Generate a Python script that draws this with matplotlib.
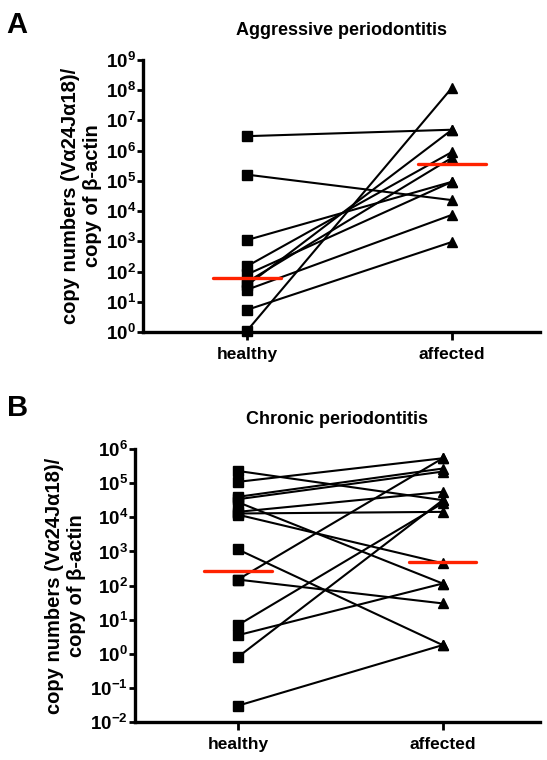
import math

import matplotlib

matplotlib.use("Agg")
import matplotlib.pyplot as plt
from matplotlib.ticker import FixedLocator, FuncFormatter, NullLocator

plt.rcParams["font.family"] = ["Liberation Sans", "DejaVu Sans"]
plt.rcParams["font.weight"] = "bold"
plt.rcParams["mathtext.fontset"] = "custom"
plt.rcParams["mathtext.rm"] = "Liberation Sans:bold"
plt.rcParams["mathtext.bf"] = "Liberation Sans:bold"
plt.rcParams["mathtext.it"] = "Liberation Sans:bold"

GROUPS = ["healthy", "affected"]

# panel A: aggressive periodontitis, one pair per patient
A_HEALTHY = [3.0e6, 1.6e5, 1.1e3, 150, 80, 45, 35, 25, 5.4, 1.1]
A_AFFECTED = [4.9e6, 2.3e4, 9.3e4, 9.0e5, 9.3e4, 5.8e5, 4.9e6, 7.5e3, 950, 1.2e8]
A_MEDIAN = [62, 3.6e5]
A_DECADES = list(range(0, 10))

# panel B: chronic periodontitis
B_HEALTHY = [2.3e5, 1.1e5, 4.0e4, 3.4e4, 2.8e4, 1.45e4, 1.3e4, 1.2e4,
             1.15e3, 150, 150, 6.9, 3.5, 0.8, 0.03]
B_AFFECTED = [3.2e4, 5.4e5, 2.7e5, 2.2e5, 115, 5.6e4, 1.45e4, 450,
              1.8, 30, 5.4e5, 2.6e4, 115, 3.2e4, 1.8]
B_MEDIAN = [270, 480]
B_DECADES = list(range(-2, 7))

YLABEL = "copy numbers (V\u03b124J\u03b118)/\ncopy of \u03b2-actin"
RED = "#ff2200"


def sci_label(v, pos):
    return r"$\mathbf{10^{%d}}$" % round(math.log10(v))


def draw_panel(ax, healthy, affected, medians, decades, xlim, title):
    for h, a in zip(healthy, affected):
        ax.plot([1, 2], [h, a], color="k", lw=1.5, zorder=2, clip_on=False)
    ax.plot([1] * len(healthy), healthy, "s", color="k", ms=7.2, zorder=3, clip_on=False)
    ax.plot([2] * len(affected), affected, "^", color="k", ms=7.8, zorder=3, clip_on=False)
    for x, m in zip([1, 2], medians):
        ax.plot([x - 0.165, x + 0.165], [m, m], color=RED, lw=2.4, zorder=4,
                solid_capstyle="round")

    ax.set_yscale("log")
    ax.set_ylim(10.0 ** decades[0], 10.0 ** decades[-1])
    ax.set_xlim(*xlim)
    ax.yaxis.set_major_locator(FixedLocator([10.0 ** d for d in decades]))
    ax.yaxis.set_minor_locator(NullLocator())
    ax.yaxis.set_major_formatter(FuncFormatter(sci_label))
    ax.set_xticks([1, 2])
    ax.set_xticklabels(GROUPS, fontsize=12.5, fontweight="bold")

    for s in ("top", "right"):
        ax.spines[s].set_visible(False)
    for s in ("left", "bottom"):
        ax.spines[s].set_linewidth(2.4)
    ax.tick_params(axis="y", direction="out", length=4, width=2.0, labelsize=13.5, pad=1)
    ax.tick_params(axis="x", direction="out", length=5.5, width=2.0, pad=5)
    ax.set_ylabel(YLABEL, fontsize=14.5, fontweight="bold", linespacing=1.2, labelpad=3)
    ax.set_title(title, fontsize=13, fontweight="bold", pad=18)


fig = plt.figure(figsize=(5.47, 7.6), dpi=100)
ax_a = fig.add_axes([0.2614, 0.5632, 0.726, 0.358])
ax_b = fig.add_axes([0.2468, 0.050, 0.740, 0.359])

draw_panel(ax_a, A_HEALTHY, A_AFFECTED, A_MEDIAN, A_DECADES, (0.492, 2.43),
           "Aggressive periodontitis")
draw_panel(ax_b, B_HEALTHY, B_AFFECTED, B_MEDIAN, B_DECADES, (0.498, 2.474),
           "Chronic periodontitis")

fig.text(0.012, 1 - 25 / 760, "A", fontsize=21, fontweight="bold", va="center")
fig.text(0.012, 1 - 408 / 760, "B", fontsize=21, fontweight="bold", va="center")

fig.savefig("out.png", dpi=100)
